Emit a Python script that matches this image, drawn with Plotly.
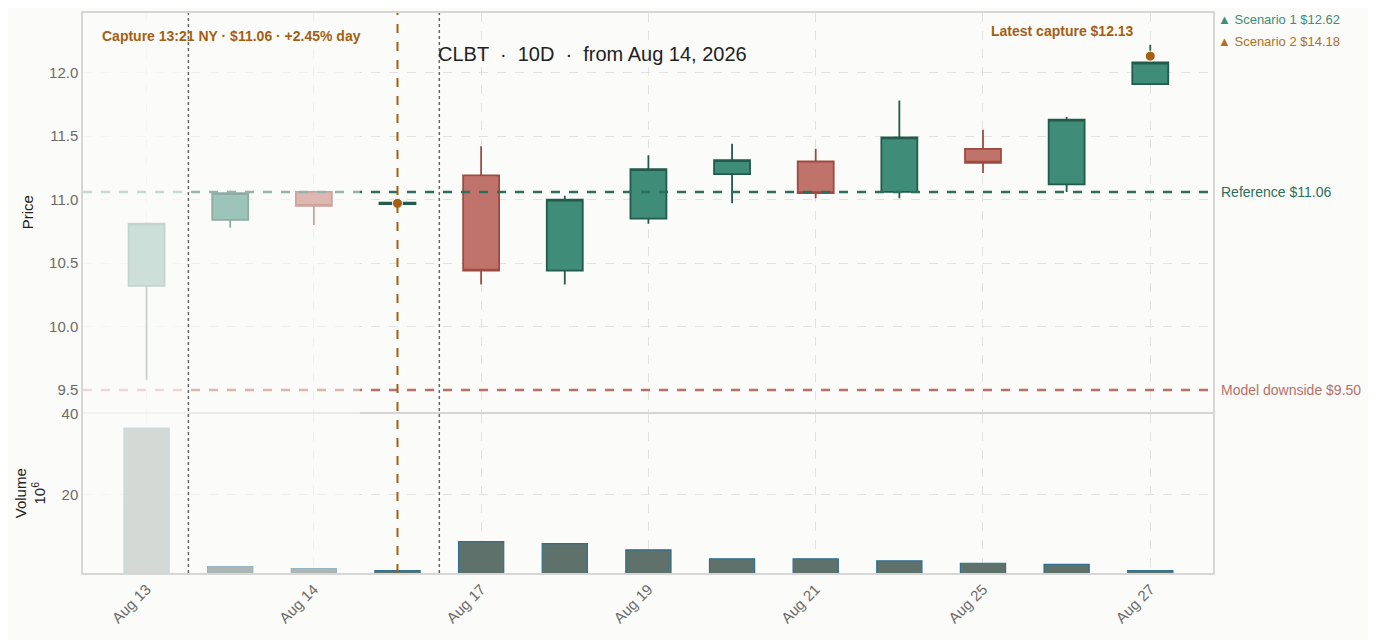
import plotly.graph_objects as go
from plotly.subplots import make_subplots

# bars, in order (two intraday slots hidden from the tick labels)
dates = ["Aug 13", "Aug 13 AH", "Aug 14", "Aug 14 13:21", "Aug 17", "Aug 18", "Aug 19",
         "Aug 20", "Aug 21", "Aug 24", "Aug 25", "Aug 26", "Aug 27"]
tick_labels = ["Aug 13", "Aug 14", "Aug 17", "Aug 19", "Aug 21", "Aug 25", "Aug 27"]

opens = [10.32, 10.84, 11.06, 10.965, 11.19, 10.44, 10.85, 11.20, 11.30, 11.06, 11.40, 11.12, 11.91]
highs = [10.82, 11.07, 11.07, 11.00, 11.42, 11.03, 11.35, 11.44, 11.40, 11.78, 11.55, 11.65, 12.22]
lows = [9.58, 10.78, 10.80, 10.96, 10.33, 10.33, 10.81, 10.97, 11.01, 11.01, 11.21, 11.06, 11.91]
closes = [10.81, 11.05, 10.95, 10.975, 10.44, 11.00, 11.24, 11.31, 11.05, 11.49, 11.29, 11.63, 12.08]
volume_m = [36.4, 2.4, 1.9, 1.4, 8.5, 8.0, 6.5, 4.3, 4.3, 3.8, 3.2, 2.9, 1.4]

capture_x = ["Aug 14 13:21", "Aug 27"]
capture_price = [10.97, 12.13]

reference = 11.06
downside = 9.50
scenarios = [("Scenario 1", 12.62), ("Scenario 2", 14.18)]

UP_FILL, UP_LINE = "#3f8c78", "#225a4b"
DN_FILL, DN_LINE = "#c0736a", "#9c4b41"
ORANGE = "#a55f12"
BG = "#fbfbf9"
GRID = "#e2e2e2"
FONT = "Liberation Sans, Arial, sans-serif"

fig = make_subplots(rows=2, cols=1, shared_xaxes=True, vertical_spacing=0.0036,
                    row_heights=[0.7142, 0.2858])

fig.add_trace(go.Candlestick(
    x=dates, open=opens, high=highs, low=lows, close=closes,
    increasing=dict(fillcolor=UP_FILL, line=dict(color=UP_LINE, width=1.8)),
    decreasing=dict(fillcolor=DN_FILL, line=dict(color=DN_LINE, width=1.8)),
    showlegend=False), row=1, col=1)

fig.add_trace(go.Scatter(
    x=capture_x, y=capture_price, mode="markers",
    marker=dict(color=ORANGE, size=10, line=dict(color="white", width=1)),
    showlegend=False), row=1, col=1)

fig.add_trace(go.Bar(
    x=dates, y=volume_m, marker=dict(color="#5f716b", line=dict(color="#2f6f8f", width=1.2)),
    showlegend=False), row=2, col=1)

# reference lines (drawn over the candles)
fig.add_shape(type="line", xref="x domain", yref="y", x0=0, x1=1, y0=reference, y1=reference,
              line=dict(color="#2d6e5c", width=2.5, dash="dash"), layer="above")
fig.add_shape(type="line", xref="x domain", yref="y", x0=0, x1=1, y0=downside, y1=downside,
              line=dict(color="#b8706a", width=2.5, dash="dash"), layer="above")

# faded context region
fig.add_shape(type="rect", xref="x", yref="paper", x0=-0.8, x1=2.55, y0=0, y1=1,
              fillcolor=BG, opacity=0.5, line_width=0, layer="above")
fig.add_shape(type="rect", xref="x", yref="paper", x0=-0.8, x1=0.5, y0=0, y1=1,
              fillcolor=BG, opacity=0.5, line_width=0, layer="above")

for xv in (0.5, 3.5):
    fig.add_shape(type="line", xref="x", yref="paper", x0=xv, x1=xv, y0=0, y1=1,
                  line=dict(color="#666666", width=1.5, dash="dot"))
fig.add_shape(type="line", xref="x", yref="paper", x0=3, x1=3, y0=0, y1=1,
              line=dict(color=ORANGE, width=2, dash="dash"))

# annotations
fig.add_annotation(xref="paper", yref="paper", x=0, xshift=17, y=1, yshift=-23,
                   xanchor="left", yanchor="middle", showarrow=False,
                   text="<b>Capture 13:21 NY · $11.06 · +2.45% day</b>",
                   font=dict(size=14, color=ORANGE, family=FONT))
fig.add_annotation(xref="paper", yref="paper", x=1, xshift=-77, y=1, yshift=-18,
                   xanchor="right", yanchor="middle", showarrow=False,
                   text="<b>Latest capture $12.13</b>",
                   font=dict(size=14, color=ORANGE, family=FONT))
for i, (name, val) in enumerate(scenarios):
    fig.add_annotation(xref="paper", yref="paper", x=1, xshift=3, y=1, yshift=-6 - 22 * i,
                       xanchor="left", yanchor="middle", showarrow=False,
                       text=f"▲ {name} ${val:.2f}",
                       font=dict(size=13, color=UP_FILL if i == 0 else "#b0701e", family=FONT))
fig.add_annotation(xref="paper", yref="y", x=1, xshift=6, y=reference, xanchor="left",
                   showarrow=False, text=f"Reference ${reference:.2f}",
                   font=dict(size=14, color="#2d6e5c", family=FONT))
fig.add_annotation(xref="paper", yref="y", x=1, xshift=6, y=downside, xanchor="left",
                   showarrow=False, text=f"Model downside ${downside:.2f}",
                   font=dict(size=14, color="#b8706a", family=FONT))

fig.update_layout(
    width=1376, height=640,
    margin=dict(l=75, r=171, t=5, b=75),
    paper_bgcolor=BG, plot_bgcolor=BG,
    font=dict(family=FONT, color="#333333"),
    title=dict(text="CLBT  ·  10D  ·  from Aug 14, 2026", x=430 / 1376, xanchor="left",
               y=1 - 46 / 640, yanchor="middle", font=dict(size=20, color="#222222")),
    boxgap=0.57, boxgroupgap=0, bargap=0.46,
)

axis_common = dict(showline=True, linecolor="#d6d6d6", linewidth=1.5, mirror=True,
                   gridcolor=GRID, griddash="dash", zeroline=False, automargin=False,
                   tickfont=dict(size=15, color="#6b6b6b"))
fig.update_xaxes(type="category", categoryorder="array", categoryarray=dates,
                 tickvals=tick_labels, range=[-0.76, 12.75], tickangle=-45,
                 rangeslider_visible=False, ticks="", **axis_common)
fig.update_yaxes(**axis_common)
fig.update_yaxes(row=1, col=1, range=[9.33, 12.47], tickvals=[9.5, 10, 10.5, 11, 11.5, 12],
                 tickformat=".1f",
                 title=dict(text="Price", font=dict(size=15, color="#222"), standoff=12))
fig.update_yaxes(row=2, col=1, range=[0.8, 40], tickvals=[20, 40],
                 title=dict(text="Volume<br>10<sup>6</sup>", font=dict(size=15, color="#222"),
                            standoff=12))

fig.write_html("out.html")
